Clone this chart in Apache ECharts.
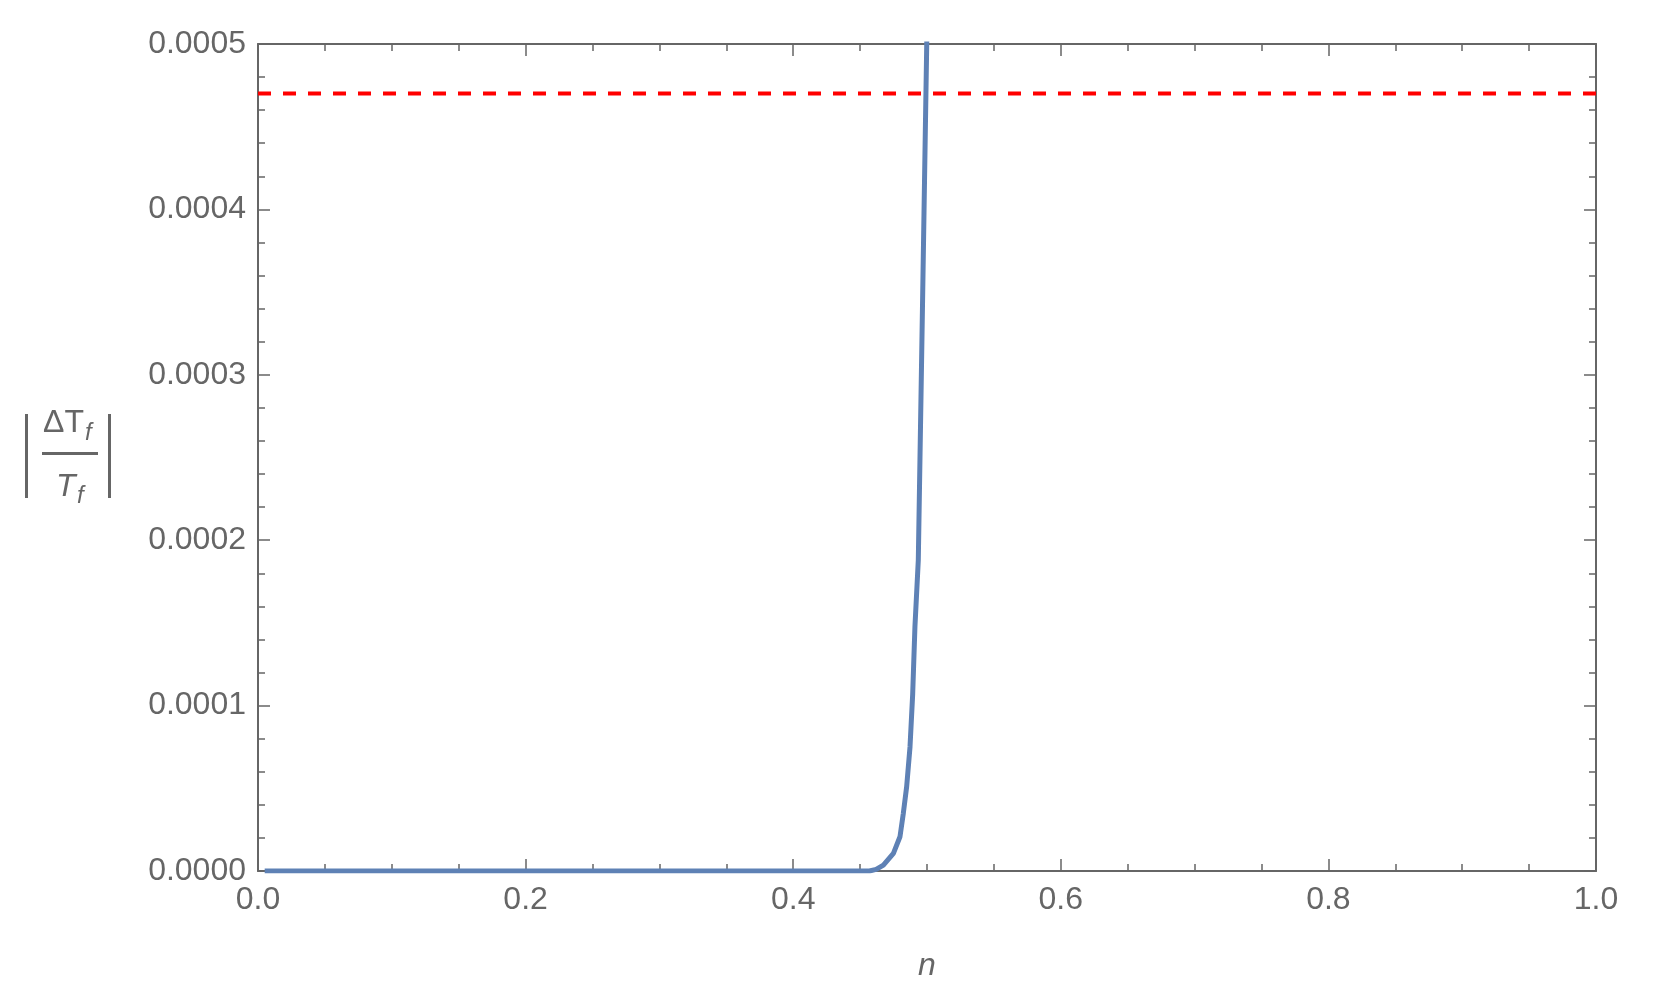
<!DOCTYPE html>
<html>
<head>
<meta charset="utf-8">
<script src="https://cdn.jsdelivr.net/npm/echarts@6/dist/echarts.min.js"></script>
<style>
  html, body { margin: 0; padding: 0; background: #fff; }
  #chart { width: 1653px; height: 1008px; }
</style>
</head>
<body>
<div id="chart"></div>
<script>
// values
var nValues = [0.005, 0.1, 0.2, 0.3, 0.4, 0.45, 0.457, 0.462, 0.4674, 0.4749, 0.4798, 0.4823, 0.4848, 0.4873, 0.4893, 0.491, 0.4935, 0.4968, 0.4998, 0.5002];
var dTValues = [0, 0, 0, 0, 0, 0, 0, 0.000001, 0.0000036, 0.0000107, 0.0000207, 0.0000349, 0.000051, 0.000075, 0.000107, 0.000148, 0.000188, 0.00035, 0.0005, 0.00052];
var limitN = [0, 1];
var limitValue = [0.00047, 0.00047];
var xTicks = [0, 0.2, 0.4, 0.6, 0.8, 1.0];
var yTicks = [0, 0.0001, 0.0002, 0.0003, 0.0004, 0.0005];

var gray = '#666666';
var labelFont = 'Liberation Sans, Arial, sans-serif';

var curve = nValues.map(function (n, i) { return [n, dTValues[i]]; });
var limit = limitN.map(function (n, i) { return [n, limitValue[i]]; });

function axisCommon(pos, showLabel, isX) {
  return {
    type: 'value',
    position: pos,
    min: isX ? xTicks[0] : yTicks[0],
    max: isX ? xTicks[xTicks.length - 1] : yTicks[yTicks.length - 1],
    interval: isX ? 0.2 : 0.0001,
    axisLine: { show: true, onZero: false, lineStyle: { color: gray, width: 2 } },
    axisTick: { show: true, inside: true, length: 12, lineStyle: { color: gray, width: 1.5 } },
    minorTick: { show: true, splitNumber: isX ? 4 : 5, length: 7, lineStyle: { color: gray, width: 1.5 } },
    splitLine: { show: false },
    axisLabel: {
      show: showLabel,
      color: gray,
      fontSize: 32,
      fontFamily: labelFont,
      margin: isX ? 13 : 12,
      formatter: function (v) { return isX ? v.toFixed(1) : v.toFixed(4); }
    }
  };
}

var chart = echarts.init(document.getElementById('chart'));
var option = {
  backgroundColor: '#ffffff',
  animation: false,
  grid: { left: 258, right: 57, top: 44, bottom: 137, containLabel: false },
  xAxis: [axisCommon('bottom', true, true), axisCommon('top', false, true)],
  yAxis: [axisCommon('left', true, false), axisCommon('right', false, false)],
  series: [
    {
      type: 'line',
      data: limit,
      showSymbol: false,
      lineStyle: { color: '#ff0000', width: 4, type: [13, 12] },
      z: 2
    },
    {
      type: 'line',
      data: curve,
      showSymbol: false,
      clip: true,
      lineStyle: { color: '#5e81b5', width: 5 },
      z: 3
    }
  ],
  graphic: [
    { type: 'text', left: 918, top: 950, style: { text: 'n', fontSize: 32, fontStyle: 'italic', fontFamily: labelFont, fill: gray } },
    // y-axis label |ΔTf / Tf|
    { type: 'rect', shape: { x: 25, y: 414, width: 3, height: 84 }, style: { fill: gray } },
    { type: 'rect', shape: { x: 108, y: 414, width: 3, height: 84 }, style: { fill: gray } },
    { type: 'rect', shape: { x: 42, y: 452, width: 56, height: 3 }, style: { fill: gray } },
    { type: 'text', x: 43, y: 407, style: { text: 'ΔT', fontSize: 32, fontFamily: labelFont, fill: gray } },
    { type: 'text', x: 85, y: 421, style: { text: 'f', fontSize: 24, fontStyle: 'italic', fontFamily: labelFont, fill: gray } },
    { type: 'text', x: 56, y: 471, style: { text: 'T', fontSize: 32, fontStyle: 'italic', fontFamily: labelFont, fill: gray } },
    { type: 'text', x: 77, y: 484, style: { text: 'f', fontSize: 24, fontStyle: 'italic', fontFamily: labelFont, fill: gray } }
  ]
};
chart.setOption(option);
</script>
</body>
</html>
